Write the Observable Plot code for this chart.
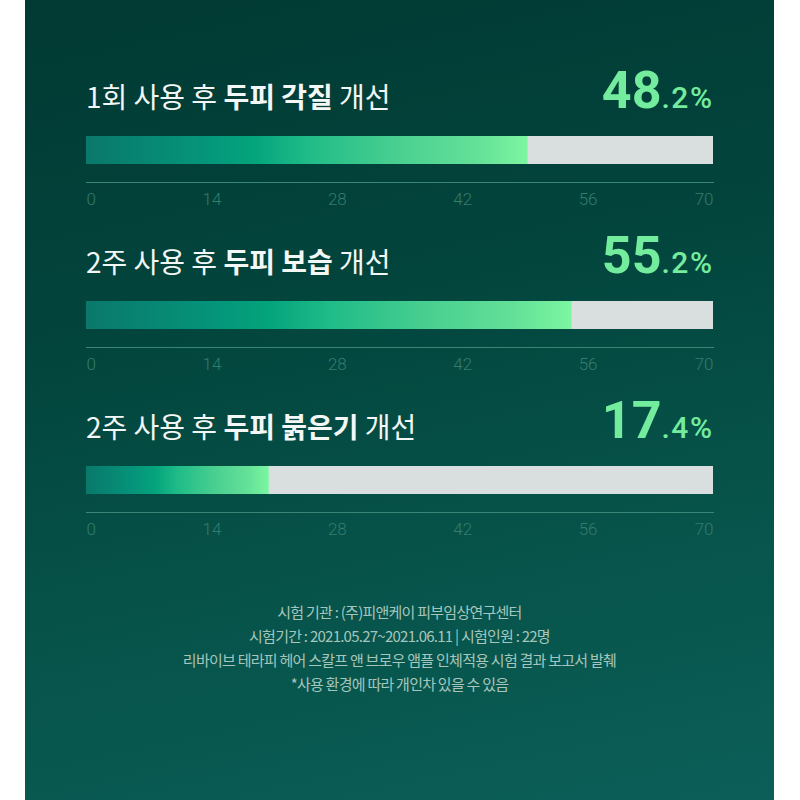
<!DOCTYPE html>
<html>
<head>
<meta charset="utf-8">
<script src="https://cdn.jsdelivr.net/npm/d3@7"></script>
<script src="https://cdn.jsdelivr.net/npm/@observablehq/plot@0.6"></script>
<style>
  html, body { margin: 0; padding: 0; background: #ffffff; }
  body { width: 800px; height: 800px; position: relative; overflow: hidden; }
  #panel {
    position: absolute; left: 25px; top: 0; width: 749px; height: 800px;
    background: linear-gradient(168deg, #013a33 0%, #02443c 35%, #065249 65%, #0b5f58 100%);
  }
  .header {
    position: absolute; left: 61px; right: 62px;
    display: flex; justify-content: space-between; align-items: baseline;
  }
  .title {
    font-family: "Noto Sans CJK KR", "Noto Sans", sans-serif;
    font-size: 28px; line-height: 1; letter-spacing: 0px;
    color: #f3f7f6; font-weight: 400; white-space: nowrap;
  }
  .title b { font-weight: 700; }
  .value { font-family: Roboto, sans-serif; color: #74ec9d; line-height: 1; white-space: nowrap; }
  .value .big { font-size: 52px; font-weight: 700; }
  .value .small { font-size: 30px; font-weight: 500; letter-spacing: 1.5px; margin-right: -1.5px; }
  .chart { position: absolute; left: 0; }
  #notes {
    position: absolute; left: 0; width: 749px; top: 600px; text-align: center;
    font-family: "Noto Sans CJK KR", sans-serif; font-size: 15px; line-height: 24px;
    letter-spacing: -0.75px; color: #a6c6bc;
  }
</style>
</head>
<body>
<div id="panel"></div>
<script>
// ---- data ----
const titlePrefix = ["1회 사용 후", "2주 사용 후", "2주 사용 후"];
const titleBold = ["두피 각질", "두피 보습", "두피 붉은기"];
const titleSuffix = ["개선", "개선", "개선"];
const percentLabels = [48.2, 55.2, 17.4];
const barValues = [49.3, 54.2, 20.4];
const axisMax = 70;
const tickValues = [0, 14, 28, 42, 56, 70];
const footnotes = [
  "시험 기관 : (주)피앤케이 피부임상연구센터",
  "시험기간 : 2021.05.27~2021.06.11 | 시험인원 : 22명",
  "리바이브 테라피 헤어 스칼프 앤 브로우 앰플 인체적용 시험 결과 보고서 발췌",
  "*사용 환경에 따라 개인차 있을 수 있음"
];

// ---- styles ----
const gradientStops = [
  [0, "#0a786a"], [0.25, "#05937a"], [0.38, "#04a47c"], [0.5, "#1fbb88"],
  [0.7, "#48cf90"], [0.88, "#63e098"], [1, "#7cf6a1"]
];
const trackColor = "#d9dfde";
const tickColor = "#347c6c";
const lineColor = "#3a8676";

const panel = document.getElementById("panel");

function gradientDefs(id) {
  return () => {
    const defs = d3.create("svg:defs");
    const g = defs.append("linearGradient").attr("id", id)
      .attr("x1", "0").attr("x2", "1").attr("y1", "0").attr("y2", "0");
    gradientStops.forEach(([o, c]) => g.append("stop").attr("offset", o).attr("stop-color", c));
    return defs.node();
  };
}

percentLabels.forEach((pct, i) => {
  const offset = i * 165;

  // header: title + value
  const header = document.createElement("div");
  header.className = "header";
  header.style.top = (65 + offset) + "px";
  const title = document.createElement("div");
  title.className = "title";
  title.innerHTML = `${titlePrefix[i]} <b>${titleBold[i]}</b> ${titleSuffix[i]}`;
  const value = document.createElement("div");
  value.className = "value";
  const [intPart, decPart] = pct.toFixed(1).split(".");
  value.innerHTML = `<span class="big">${intPart}</span><span class="small">.${decPart}%</span>`;
  header.appendChild(title);
  header.appendChild(value);
  panel.appendChild(header);

  // bar chart
  const id = "grad" + i;
  const fontStyle = { fontFamily: "Roboto, sans-serif", fontSize: 17, fontWeight: 300 };
  const chart = Plot.plot({
    width: 749, height: 90,
    marginLeft: 61, marginRight: 61, marginTop: 10, marginBottom: 34,
    style: { background: "transparent", fontFamily: "Roboto, sans-serif", fontSize: "17px", overflow: "visible" },
    x: { domain: [0, axisMax] },
    marks: [
      gradientDefs(id),
      Plot.barX([axisMax], { x: d => d, fill: trackColor, insetBottom: 18 }),
      Plot.barX([barValues[i]], { x: d => d, fill: `url(#${id})`, insetBottom: 18 }),
      Plot.frame({ anchor: "bottom", stroke: lineColor, strokeOpacity: 1 }),
      Plot.axisX({ ticks: tickValues.slice(1, -1), tickSize: 0, tickPadding: 10, color: tickColor, ...fontStyle }),
      Plot.text([tickValues[0]], { x: d => d, text: d => String(d), frameAnchor: "bottom", lineAnchor: "top", dy: 10, textAnchor: "start", fill: tickColor, ...fontStyle }),
      Plot.text([tickValues[tickValues.length - 1]], { x: d => d, text: d => String(d), frameAnchor: "bottom", lineAnchor: "top", dy: 10, textAnchor: "end", fill: tickColor, ...fontStyle })
    ]
  });
  chart.classList.add("chart");
  chart.style.top = (126 + offset) + "px";
  panel.appendChild(chart);
});

const notes = document.createElement("div");
notes.id = "notes";
notes.innerHTML = footnotes.map(t => `<div>${t}</div>`).join("");
panel.appendChild(notes);
</script>
</body>
</html>
